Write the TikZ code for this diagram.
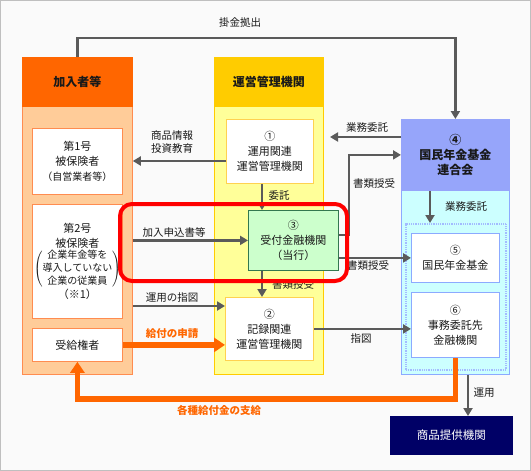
\documentclass[tikz,border=0pt]{standalone}
\usepackage{fontspec}
\setmainfont{Noto Sans CJK JP}
\usetikzlibrary{arrows.meta}
\definecolor{kanyuhd}{RGB}{255,102,0}
\definecolor{kanyubg}{RGB}{255,204,153}
\definecolor{kanyuln}{RGB}{255,140,80}
\definecolor{unkanhd}{RGB}{255,204,0}
\definecolor{unkanbg}{RGB}{255,255,153}
\definecolor{unkanln}{RGB}{255,210,80}
\definecolor{rengohd}{RGB}{150,165,250}
\definecolor{rengobg}{RGB}{204,255,255}
\definecolor{rengoln}{RGB}{140,170,255}
\definecolor{ukebg}{RGB}{204,255,204}
\definecolor{ukeln}{RGB}{51,120,80}
\definecolor{arrgray}{RGB}{90,90,90}
\definecolor{kyufu}{RGB}{255,102,0}
\definecolor{shohinbg}{RGB}{0,0,102}

\begin{document}
\begin{tikzpicture}[x=1pt,y=-1pt,
    every node/.style={font=\fontsize{11}{15}\selectfont, text=black!90, align=center, inner sep=0pt},
    area/.style={anchor=north west, draw, line width=0.8pt},
    box/.style={anchor=north west, draw, fill=white, line width=0.8pt},
    head/.style={font=\bfseries\fontsize{12}{15}\selectfont},
    arr/.style={draw=arrgray, line width=2.6pt, -{Triangle[length=8pt,width=9pt]}},
    kyu/.style={draw=kyufu, line width=5.5pt, -{Triangle[length=11pt,width=14pt]}},
    lbl/.style={font=\fontsize{10.5}{13}\selectfont},
    kyulbl/.style={font=\bfseries\fontsize{10.5}{13}\selectfont, text=kyufu}]
  \useasboundingbox (0,0) rectangle (531,471);
  \draw[draw=gray!50, fill=gray!4] (0.5,0.5) rectangle (530.5,470.5);

  % 加入者等
  \node[area, draw=kanyuln, fill=kanyubg, minimum width=110pt, minimum height=317pt] (kanyu) at (22,57) {};
  \node[area, head, draw=kanyuhd, fill=kanyuhd, minimum width=110pt, minimum height=49pt] (kanyuhead) at (22,57) {加入者等};
  \node[box, draw=kanyuln, minimum width=90pt, minimum height=66pt] (dai1) at (32,128)
    {第1号\\被保険者\\{\fontsize{10}{12}\selectfont（自営業者等）}};
  \node[box, draw=kanyuln, minimum width=90pt, minimum height=114pt] (dai2) at (32,204)
    {第2号\\被保険者\\
     {\fontsize{10}{13}\selectfont$\left(\begin{tabular}{@{}c@{}}企業年金等を\\導入していない\\企業の従業員\end{tabular}\right)$}\\（※1）};
  \node[box, draw=kanyuln, minimum width=90pt, minimum height=33pt] (jukyu) at (32,328) {受給権者};

  % 運営管理機関
  \node[area, draw=unkanhd, fill=unkanbg, minimum width=109pt, minimum height=317pt] (unkan) at (214,57) {};
  \node[area, head, draw=unkanhd, fill=unkanhd, minimum width=109pt, minimum height=49pt] (unkanhead) at (214,57) {運営管理機関};
  \node[box, draw=unkanln, minimum width=87pt, minimum height=64pt] (unyo) at (226,119) {①\\運用関連\\運営管理機関};
  \node[box, draw=ukeln, fill=ukebg, minimum width=90pt, minimum height=60pt] (uketsuke) at (248,210) {③\\受付金融機関\\（当行）};
  \node[box, draw=unkanln, minimum width=88pt, minimum height=63pt] (kiroku) at (225,297) {②\\記録関連\\運営管理機関};

  % 国民年金基金連合会
  \node[area, draw=rengoln, fill=rengobg, minimum width=108pt, minimum height=255pt] (rengo) at (401,119) {};
  \node[area, head, draw=rengohd, fill=rengohd, minimum width=108pt, minimum height=71pt] (rengohead) at (401,119) {④\\国民年金基金\\連合会};
  \node[area, draw=rengoln!80, densely dotted, line width=2pt, minimum width=100pt, minimum height=146pt] (kikinwaku) at (405,223) {};
  \node[box, draw=rengoln, minimum width=88pt, minimum height=49pt] (kikin) at (411,233) {⑤\\国民年金基金};
  \node[box, draw=rengoln, minimum width=88pt, minimum height=65pt] (jimu) at (411,292) {⑥\\事務委託先\\金融機関};
  \node[area, draw=shohinbg, fill=shohinbg, text=white, font=\fontsize{11.5}{14}\selectfont, minimum width=122pt, minimum height=38pt] (shohin) at (390,416) {商品提供機関};

  \coordinate (tate) at (262,0);
  \coordinate (gyomusaki) at (330,137);

  \draw[arr] (kanyuhead.north) -- ++(0,-19) -| (rengohead.north);
  \node[lbl] (kakekin) at (240,23) {掛金拠出};

  \draw[arr] (unyo.west |- 0,161) -- (kanyu.east |- 0,161);
  \node[lbl] (shohinjoho) at (172,142) {商品情報\\投資教育};

  \draw[arr] (rengohead.west |- gyomusaki) -- (gyomusaki);
  \node[lbl] (gyomuitaku1) at (367,128) {業務委託};

  \draw[arr] (uketsuke.east |- 0,235) -- ++(10,0) |- (rengohead.west);
  \node[lbl] (shorui1) at (374,184) {書類授受};

  \draw[arr] (uketsuke.east |- kikin.west) -- (kikin.west);
  \node[lbl] (shorui2) at (368,266) {書類授受};

  \draw[arr] (unyo.south -| tate) -- (uketsuke.north -| tate);
  \node[lbl] (itaku) at (279,196) {委託};

  \draw[arr] (uketsuke.south -| tate) -- (kiroku.north -| tate);
  \node[lbl] (shorui3) at (293,285) {書類授受};

  \draw[arr] (kanyu.east |- uketsuke.west) -- (uketsuke.west);
  \node[lbl] (moushikomi) at (174,232) {加入申込書等};

  \draw[arr] (kanyu.east |- 0,306) -- (kiroku.west |- 0,306);
  \node[lbl] (unyosashizu) at (172,298) {運用の指図};

  \draw[kyu] (jukyu.east) -- (jukyu.east -| kiroku.west);
  \node[kyulbl] (shinsei) at (172,334) {給付の申請};

  \draw[arr] (kiroku.east) -- (kiroku.east -| jimu.west);
  \node[lbl] (sashizu) at (361,339) {指図};

  \draw[kyu] (jimu.south) -- ++(0,41) -| (jukyu.south);
  \node[kyulbl] (shikyu) at (219,410) {各種給付金の支給};

  \draw[arr] (rengo.south -| 468,0) -- (shohin.north -| 468,0);
  \node[lbl] (unyo2) at (484,393) {運用};

  \draw[arr] (rengohead.south -| 430,0) -- (kikinwaku.north -| 430,0);
  \node[lbl] (gyomuitaku2) at (466,207) {業務委託};

  % 当行
  \draw[red, line width=4pt, rounded corners=12pt] (120,204) rectangle (347,281);
\end{tikzpicture}
\end{document}
